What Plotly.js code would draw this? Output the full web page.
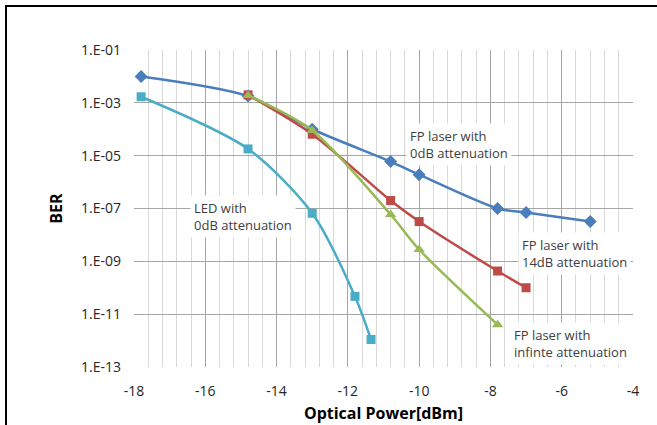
<!DOCTYPE html>
<html>
<head>
<meta charset="utf-8">
<script src="https://cdn.plot.ly/plotly-3.0.1.min.js"></script>
<style>
  html, body { margin: 0; padding: 0; background: #fff; }
  #chart { position: absolute; left: 0; top: 0; width: 657px; height: 425px; }
  #frame { position: absolute; left: 5px; top: 5px; width: 652px; height: 420px;
           border-left: 2px solid #000; border-top: 2px solid #000; pointer-events: none; box-sizing: border-box; }
</style>
</head>
<body>
<div id="chart"></div>
<div id="frame"></div>
<script>
// Data
const fp0_x   = [-17.8, -14.8, -13.0, -10.8, -10.0, -7.8, -7.0, -5.2];
const fp0_ber = [1.0e-2, 1.8e-3, 1.0e-4, 6.0e-6, 1.9e-6, 1.0e-7, 7.0e-8, 3.2e-8];

const fp14_x   = [-14.8, -13.0, -10.8, -10.0, -7.8, -7.0];
const fp14_ber = [2.0e-3, 6.5e-5, 2.0e-7, 3.2e-8, 4.3e-10, 1.0e-10];

const fpInf_x   = [-14.8, -13.0, -10.8, -10.0, -7.8];
const fpInf_ber = [1.9e-3, 9.0e-5, 5.9e-8, 2.8e-9, 4.0e-12];

const led_x   = [-17.8, -14.8, -13.0, -11.8, -11.35];
const led_ber = [1.7e-3, 1.8e-5, 6.6e-8, 4.7e-11, 1.1e-12];

const xTickVals = [-18, -16, -14, -12, -10, -8, -6, -4];
const xTickText = ["-18", "-16", "-14", "-12", "-10", "-8", "-6", "-4"];
const yTickVals = [1e-1, 1e-3, 1e-5, 1e-7, 1e-9, 1e-11, 1e-13];
const yTickText = ["1.E-01", "1.E-03", "1.E-05", "1.E-07", "1.E-09", "1.E-11", "1.E-13"];

const labelTexts = ["FP laser with<br>0dB attenuation", "FP laser with<br>14dB attenuation",
                    "FP laser with<br>infinte attenuation", "LED with<br>0dB attenuation"];

function series(x, y, color, symbol, size) {
  return {
    x: x, y: y, type: 'scatter', mode: 'lines+markers',
    line: { color: color, width: 2.5, shape: 'spline', smoothing: 0.8 },
    marker: { color: color, symbol: symbol, size: size },
    hoverinfo: 'skip', showlegend: false
  };
}

const traces = [
  series(fp0_x, fp0_ber, '#4A7EBB', 'diamond', 10),
  series(fp14_x, fp14_ber, '#BE4B48', 'square', 9),
  series(fpInf_x, fpInf_ber, '#98B954', 'triangle-up', 10),
  series(led_x, led_ber, '#4BACC6', 'square', 9)
];

const annPos = [[-8.88, -4.56], [-5.65, -8.69], [-5.75, -12.1], [-14.93, -7.31]];
const annotations = labelTexts.map((t, i) => ({
  x: annPos[i][0], y: annPos[i][1], xref: 'x', yref: 'y',
  text: t, showarrow: false, align: 'left',
  font: { family: 'Open Sans', size: 13, color: '#404040' },
  bgcolor: '#ffffff', borderpad: 3
}));

const layout = {
  width: 657, height: 425,
  margin: { l: 134, r: 24, t: 50, b: 58 },
  paper_bgcolor: '#ffffff', plot_bgcolor: '#ffffff',
  font: { family: 'Open Sans', color: '#404040' },
  xaxis: {
    range: [-18, -4], tickvals: xTickVals, ticktext: xTickText,
    showgrid: true, gridcolor: '#A6A6A6', gridwidth: 1,
    minor: { dtick: 0.4, tick0: -18, showgrid: true, gridcolor: '#D9D9D9', gridwidth: 1 },
    zeroline: false, showline: false, ticks: '',
    ticklabelstandoff: 14,
    tickfont: { family: 'Open Sans', size: 14, color: '#262626' },
    title: { text: 'Optical Power[dBm]', font: { family: 'Open Sans', size: 16, color: '#000', weight: 'bold' }, standoff: 8 }
  },
  yaxis: {
    type: 'log', range: [-13, -1],
    tickvals: yTickVals, ticktext: yTickText,
    showgrid: true, gridcolor: '#A6A6A6', gridwidth: 1,
    zeroline: false, showline: false, ticks: '',
    ticklabelstandoff: 12,
    tickfont: { family: 'Open Sans', size: 14, color: '#262626' },
    title: { text: 'BER', font: { family: 'Open Sans', size: 16, color: '#000', weight: 'bold' }, standoff: 14 }
  },
  annotations: annotations
};

Plotly.newPlot('chart', traces, layout, { staticPlot: true, displayModeBar: false });
</script>
</body>
</html>
